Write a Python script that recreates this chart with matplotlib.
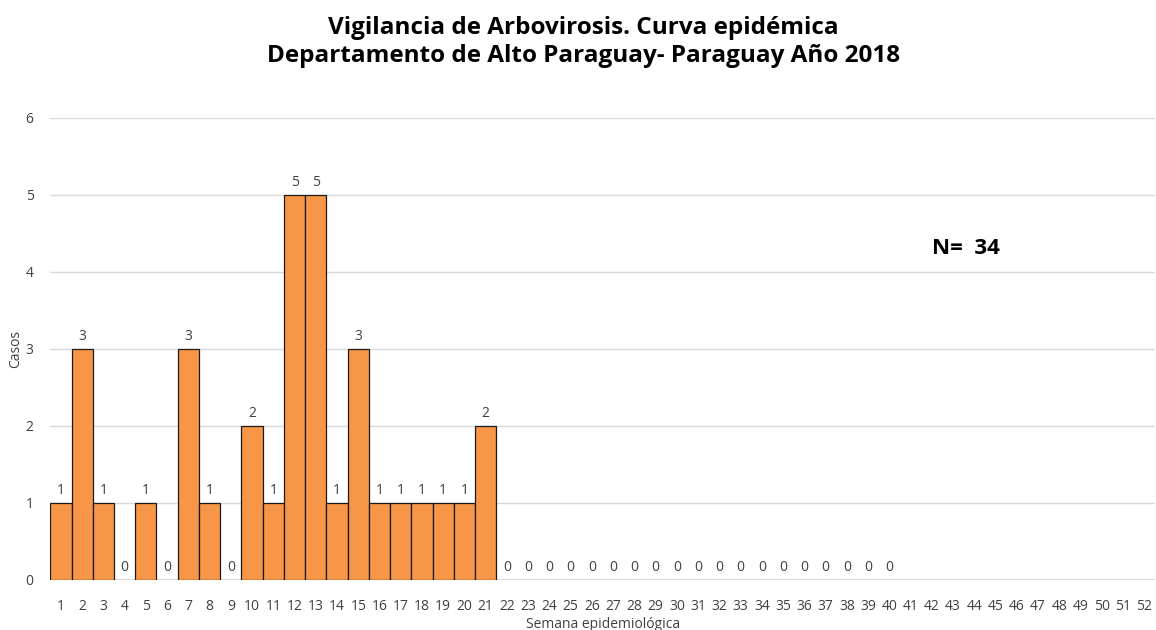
import numpy as np
import matplotlib.pyplot as plt

plt.rcParams['font.family'] = ['Open Sans', 'DejaVu Sans']

# Casos por semana epidemiológica (semanas 1-40 con datos)
semanas = np.arange(1, 53)
casos = [1, 3, 1, 0, 1, 0, 3, 1, 0, 2, 1, 5, 5, 1, 3, 1, 1, 1, 1, 1, 2,
         0, 0, 0, 0, 0, 0, 0, 0, 0, 0, 0, 0, 0, 0, 0, 0, 0, 0, 0]
valores = np.full(len(semanas), np.nan)
valores[:len(casos)] = casos

titulo = "Vigilancia de Arbovirosis. Curva epidémica\nDepartamento de Alto Paraguay- Paraguay Año 2018"
total = "N=  34"

fig = plt.figure(figsize=(11.56, 6.30), dpi=100)
ax = fig.add_axes([0.0435, 0.0794, 0.9555, 0.7333])

ax.bar(semanas, np.nan_to_num(valores), width=1.0, color="#F79646",
       edgecolor="#1a1a1a", linewidth=0.9, zorder=3)

for s, v in zip(semanas, valores):
    if not np.isnan(v):
        ax.text(s, v + 0.07, str(int(v)), ha="center", va="bottom",
                fontsize=10, color="#404040")

ax.set_xlim(0.5, 52.5)
ax.set_ylim(0, 6)
ax.set_yticks(range(0, 7))
ax.set_xticks(semanas)
ax.tick_params(axis="both", length=0, labelsize=10, colors="#404040")
ax.tick_params(axis="x", pad=14)
ax.tick_params(axis="y", pad=12)
ax.grid(axis="y", color="#D9D9D9", linewidth=1.0, zorder=0)
for sp in ax.spines.values():
    sp.set_visible(False)

ax.set_ylabel("Casos", fontsize=10, color="#404040", labelpad=2)
ax.set_xlabel("Semana epidemiológica", fontsize=10, color="#404040", labelpad=2)

ax.text(43.6, 4.3, total, ha="center", va="center", fontsize=16,
        fontweight="bold", color="black")

fig.suptitle(titulo, x=0.505, y=0.975, fontsize=17.5, fontweight="bold",
             color="black", linespacing=1.25)

fig.savefig("out.png", dpi=100)
